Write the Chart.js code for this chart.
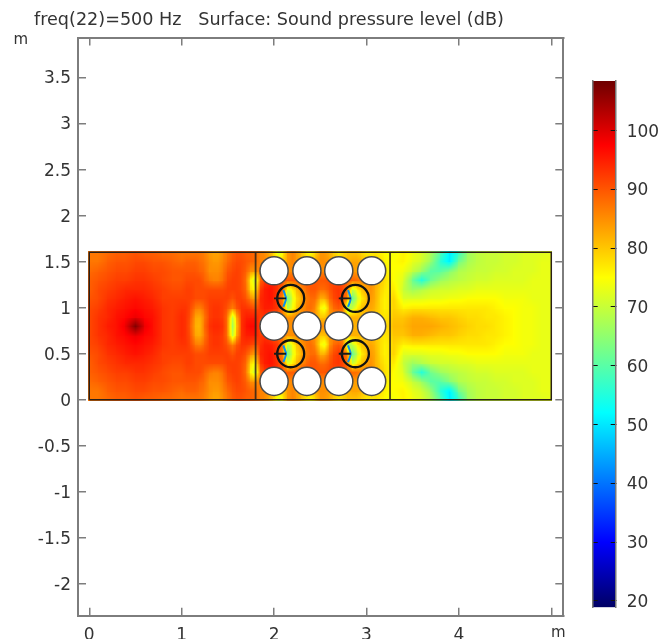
<!DOCTYPE html>
<html><head><meta charset="utf-8">
<script src="https://cdn.jsdelivr.net/npm/chart.js@4"></script>
<style>html,body{margin:0;padding:0;background:#fff}#w{position:relative;width:659px;height:639px}canvas{position:absolute;left:0;top:0;filter:blur(.35px)}</style>
</head><body><div id="w"><canvas id="main" width="659" height="639"></canvas><canvas id="bar" width="659" height="639"></canvas></div>
<script>
const titleText = 'freq(22)=500 Hz   Surface: Sound pressure level (dB)';
const xTickUnit = 'm', yTickUnit = 'm';
// grid node positions (m)
const xNodes = [0,.1,.2,.3,.4,.5,.6,.7,.8,.9,1,
 1.05,1.1,1.15,1.2,1.25,1.3,1.35,1.4,1.45,1.5,1.55,1.6,1.65,1.7,1.75,1.8,
 1.85,1.9,1.95,2,2.05,2.1,2.15,2.2,2.25,2.3,2.35,2.4,2.45,2.5,2.55,2.6,2.65,2.7,2.75,2.8,2.85,2.9,2.95,3,3.05,3.1,3.15,3.2,3.25,3.3,
 3.4,3.5,3.6,3.7,3.8,3.9,4,4.1,4.2,4.3,4.4,4.5,4.6,4.7,4.8,4.9,5];
const yNodes = [0,.1,.2,.3,.4,.5,.6,.7,.8,.9,1,1.1,1.2,1.3,1.4,1.5,1.6];
// sound pressure level (dB) read along each row
const splY00 = [87,87,88,89,89,90,89,89,88,88,87, 87,87,87,87,86,84,83,83,85,87,89,90,90,89,89,88, 86,85,82,78,70,76,84,86,84,80,76,74,78,84,84,82,79,76,78,80,80,80,78,76,76,77,76,75,74,74, 76,74,72,68,60,50,56,66,69,70,70,71,71,72,72,72,73];
const splY01 = [87,87,89,90,90,91,91,90,90,89,88, 89,89,89,88,87,85,84,84,86,88,90,91,91,90,89,88, 86,86,84,82,78,80,84,86,84,82,80,80,83,85,85,84,82,80,80,82,83,83,82,80,80,79,78,76,75,75, 76,73,71,66,56,50,62,67,69,70,70,71,71,72,72,73,73];
const splY02 = [88,89,90,91,91,92,92,91,91,90,90, 90,90,90,89,88,85,85,85,87,90,91,92,91,89,85,84, 87,88,88,88,88,86,85,85,85,85,85,85,85,85,85,84,84,84,84,84,84,83,83,82,82,80,79,77,75,75, 74,70,66,60,60,64,68,69,70,70,71,71,72,72,72,73,73];
const splY03 = [89,90,91,92,92,93,93,92,91,90,90, 91,91,91,91,89,87,86,86,88,91,92,92,91,87,76,68, 88,92,94,94,92,90,90,90,90,90,90,90,90,90,90,91,91,91,91,90,89,88,87,86,85,83,80,78,76,75, 72,62,54,62,66,68,69,70,71,71,72,72,72,72,73,73,73];
const splY04 = [89,91,92,93,94,94,94,93,92,91,91, 92,92,91,91,91,91,91,91,91,92,92,92,91,88,78,74, 92,95,96,95,92,88,72,76,81,85,88,90,90,88,88,90,92,93,91,86,70,76,80,83,85,82,79,77,76,77, 70,66,68,70,71,71,72,72,73,73,73,73,73,73,73,73,73];
const splY05 = [90,91,93,94,95,96,95,94,92,92,92, 92,92,91,91,91,92,92,92,92,92,90,92,92,90,86,82, 94,95,96,95,90,84,62,72,78,82,86,88,88,82,82,88,91,93,90,86,60,70,76,80,84,82,78,76,77,79, 72,72,72,73,73,74,74,75,75,75,75,74,74,74,73,73,73];
const splY06 = [91,92,94,95,96,97,96,95,93,92,93, 93,91,87,86,89,92,93,93,92,90,86,90,93,93,92,90, 93,95,95,94,92,86,68,74,80,84,87,88,85,76,72,84,88,90,87,64,70,76,80,82,83,81,78,76,77,79, 76,77,77,77,77,77,77,77,77,77,76,75,75,74,74,73,73];
const splY07 = [91,93,94,96,97,99,97,96,93,92,94, 93,90,83,82,87,92,93,93,92,87,68,82,93,95,95,95, 92,93,92,90,88,86,85,85,86,86,86,86,84,80,80,84,85,85,84,83,82,82,81,81,81,80,78,77,78,80, 80,82,82,81,80,80,79,78,78,77,77,76,75,74,74,73,73];
const splY08 = [91,93,95,96,99,108,99,96,93,92,94, 93,89,82,81,88,93,94,94,93,87,65,80,93,96,97,97, 90,88,88,88,88,86,85,85,86,87,87,87,87,86,85,85,85,84,83,82,82,82,82,82,82,81,79,78,79,81, 81,83,83,83,82,81,80,79,78,78,77,76,75,74,74,73,73];
const splRows = [splY00,splY01,splY02,splY03,splY04,splY05,splY06,splY07,splY08,splY07,splY06,splY05,splY04,splY03,splY02,splY01,splY00];
// geometry (m)
const domainX = [0,5,5,0,0], domainY = [0,0,1.6,1.6,0];
const wallX = [1.8,3.255];
const domainTop = 1.6;
const solidX = [2,2.355,2.7,3.056], solidY = [.2,.8,1.4], solidR = .152;
const ringX = [2.18,2.88], ringY = [.5,1.1], ringR = .146;
const arcDX = [-.08,-.06,-.051,-.06,-.08], arcDY = [.09,.036,0,-.04,-.09];
const feedDX = [-.18,-.05], feedTickDX = -.15, feedTickDY = .022;
// colour scale
const cbMin = 18.9, cbMax = 108.4, cbTickStep = 10;
const cbStopV = [18.9,30,52,75,97.5,108.4];
const cbStopC = [[0,0,100],[0,0,255],[0,255,255],[255,255,0],[255,0,0],[110,0,0]];

function colour(v){
  if(v<=cbStopV[0]) return cbStopC[0];
  for(let k=1;k<cbStopV.length;k++){
    if(v<=cbStopV[k]){
      const t=(v-cbStopV[k-1])/(cbStopV[k]-cbStopV[k-1]),a=cbStopC[k-1],b=cbStopC[k];
      return [a[0]+(b[0]-a[0])*t,a[1]+(b[1]-a[1])*t,a[2]+(b[2]-a[2])*t];
    }
  }
  return cbStopC[cbStopC.length-1];
}
const cells=[];
for(let j=0;j<yNodes.length-1;j++)for(let i=0;i<xNodes.length-1;i++)
  cells.push({x:(xNodes[i]+xNodes[i+1])/2,y:(yNodes[j]+yNodes[j+1])/2,i,j});
const tileCache=new Map();
function tile(c,chart){
  if(!c||c.i===undefined) return 'rect';
  let t=tileCache.get(c); if(t) return t;
  const sx=chart.scales.x,sy=chart.scales.y;
  if(!sx||!sy) return 'rect';
  const W=Math.ceil(Math.abs(sx.getPixelForValue(xNodes[c.i+1])-sx.getPixelForValue(xNodes[c.i])))+1;
  const H=Math.ceil(Math.abs(sy.getPixelForValue(yNodes[c.j+1])-sy.getPixelForValue(yNodes[c.j])))+1;
  if(!(W>1&&H>1&&W<100&&H<100)) return 'rect';
  t=document.createElement('canvas');t.width=W;t.height=H;
  const g=t.getContext('2d'),im=g.createImageData(W,H);
  const a=splRows[c.j][c.i],b=splRows[c.j][c.i+1],d=splRows[c.j+1][c.i],e=splRows[c.j+1][c.i+1];
  for(let py=0;py<H;py++)for(let px=0;px<W;px++){
    const u=(px+.5)/W,v=1-(py+.5)/H;
    const val=(a*(1-u)+b*u)*(1-v)+(d*(1-u)+e*u)*v,col=colour(val),o=(py*W+px)*4;
    im.data[o]=col[0];im.data[o+1]=col[1];im.data[o+2]=col[2];im.data[o+3]=255;
  }
  g.putImageData(im,0,0);tileCache.set(c,t);return t;
}
const pairs=(xa,ya)=>xa.map((x,k)=>({x,y:ya[k]}));
const grid=(xa,ya)=>ya.flatMap(y=>xa.map(x=>({x,y})));
const gap={x:null,y:null};
const wallPts=wallX.flatMap(x=>[{x,y:0},{x,y:domainTop},gap]);
const ringPts=grid(ringX,ringY);
const arcPts=ringPts.flatMap(p=>[...arcDX.map((dx,k)=>({x:p.x+dx,y:p.y+arcDY[k]})),gap]);
const feedPts=ringPts.flatMap(p=>[{x:p.x+feedDX[0],y:p.y},{x:p.x+feedDX[1],y:p.y},gap,{x:p.x+feedTickDX,y:p.y-feedTickDY},{x:p.x+feedTickDX,y:p.y+feedTickDY},gap]);
const radiusPx=r=>ctx=>{const s=ctx.chart.scales.x;return s?Math.abs(s.getPixelForValue(r)-s.getPixelForValue(0))||1:1;};

const FONT='"DejaVu Sans"',TXT='#333',AX='#7d7d7d';
const X=[-.122,5.13],Y=[-2.342,3.93];
const lowered=v=>['',String(v)];
const tickFont={family:FONT,size:17,lineHeight:.2};
const inkAxis=(extra)=>Object.assign({type:'linear',border:{color:AX,width:2},grid:{drawOnChartArea:false,color:AX,lineWidth:1.5,tickLength:-8}},extra);
const unitPlugin={id:'unit',afterDraw(c){const g=c.ctx;g.save();g.font='15px '+FONT;g.fillStyle=TXT;g.textBaseline='alphabetic';g.fillText(yTickUnit,13.5,44);g.fillText(xTickUnit,551,637);g.restore();}};

new Chart(document.getElementById('main'),{
  type:'scatter',
  data:{datasets:[
    {label:'SPL',data:cells,order:6,pointStyle:c=>tile(c.raw,c.chart),pointRadius:1,pointBorderWidth:0},
    {label:'solids',data:grid(solidX,solidY),order:4,pointRadius:radiusPx(solidR),pointBackgroundColor:'#fff',pointBorderColor:'#4a4a4a',pointBorderWidth:1.5},
    {label:'domain',data:pairs(domainX,domainY),order:5,showLine:true,pointRadius:0,borderColor:'#2a2018',borderWidth:1.5},
    {label:'walls',data:wallPts,order:5,showLine:true,pointRadius:0,borderColor:'rgba(45,35,25,.85)',borderWidth:1.8},
    {label:'rings',data:ringPts,order:3,pointRadius:radiusPx(ringR),pointBackgroundColor:'rgba(0,0,0,0)',pointBorderColor:'#111',pointBorderWidth:2.3},
    {label:'arcs',data:arcPts,order:2,showLine:true,pointRadius:0,borderColor:'#0690f0',borderWidth:2,tension:.3},
    {label:'feeds',data:feedPts,order:1,showLine:true,pointRadius:0,borderColor:'#1a1a1a',borderWidth:1.8}
  ]},
  options:{
    responsive:false,animation:false,events:[],
    layout:{padding:{left:34,right:0,top:0,bottom:0}},
    plugins:{legend:{display:false},tooltip:{enabled:false},
      title:{display:true,text:titleText,align:'start',color:TXT,font:{family:FONT,size:17.6,weight:'normal'},padding:{top:10,bottom:0}}},
    scales:{
      x:inkAxis({position:'bottom',min:X[0],max:X[1],afterFit(s){s.height=23.3;},
        ticks:{stepSize:1,includeBounds:false,autoSkip:false,maxRotation:0,color:TXT,padding:18,font:{family:FONT,size:17},callback:v=>v===5?'':String(v)}}),
      x2:inkAxis({position:'top',axis:'x',min:X[0],max:X[1],afterFit(s){s.height=6.5;},
        ticks:{stepSize:1,includeBounds:false,display:false}}),
      y:inkAxis({position:'left',min:Y[0],max:Y[1],afterFit(s){s.width=44;},
        ticks:{stepSize:.5,includeBounds:false,autoSkip:false,color:TXT,padding:15,font:tickFont,callback:lowered}}),
      y2:inkAxis({position:'right',axis:'y',min:Y[0],max:Y[1],afterFit(s){s.width=95.7;},
        ticks:{stepSize:.5,includeBounds:false,display:false}})
    }
  },
  plugins:[unitPlugin]
});

new Chart(document.getElementById('bar'),{
  type:'bar',
  data:{labels:['SPL'],datasets:[{data:[[cbMin,cbMax]],barPercentage:1,categoryPercentage:1,borderSkipped:false,borderWidth:0,
    backgroundColor(c){
      const s=c.chart.scales.y;if(!s||!isFinite(s.getPixelForValue(cbMin)))return '#000';
      const a=s.getPixelForValue(cbMin),b=s.getPixelForValue(cbMax),g=c.chart.ctx.createLinearGradient(0,a,0,b);
      cbStopV.forEach((v,k)=>g.addColorStop((v-cbMin)/(cbMax-cbMin),'rgb('+cbStopC[k].join(',')+')'));
      return g;
    }}]},
  options:{
    responsive:false,animation:false,events:[],
    layout:{padding:{top:81,bottom:31.7,left:0,right:0}},
    plugins:{legend:{display:false},tooltip:{enabled:false}},
    scales:{
      x:{display:false},
      y:{type:'linear',position:'right',min:cbMin,max:cbMax,afterFit(s){s.width=43.3;},
        border:{color:'#777',width:1.5,z:2},
        grid:{drawOnChartArea:false,color:'#111',lineWidth:1,tickLength:-5,z:1},
        ticks:{stepSize:cbTickStep,includeBounds:false,color:TXT,padding:16,font:tickFont,callback:lowered}},
      y3:{type:'linear',axis:'y',position:'left',min:cbMin,max:cbMax,afterFit(s){s.width=592.7;},
        border:{color:'#777',width:1.5,z:2},
        grid:{drawOnChartArea:false,color:'#111',lineWidth:1,tickLength:-5,z:1},
        ticks:{stepSize:cbTickStep,includeBounds:false,display:false}}
    }
  }
});
</script></body></html>
